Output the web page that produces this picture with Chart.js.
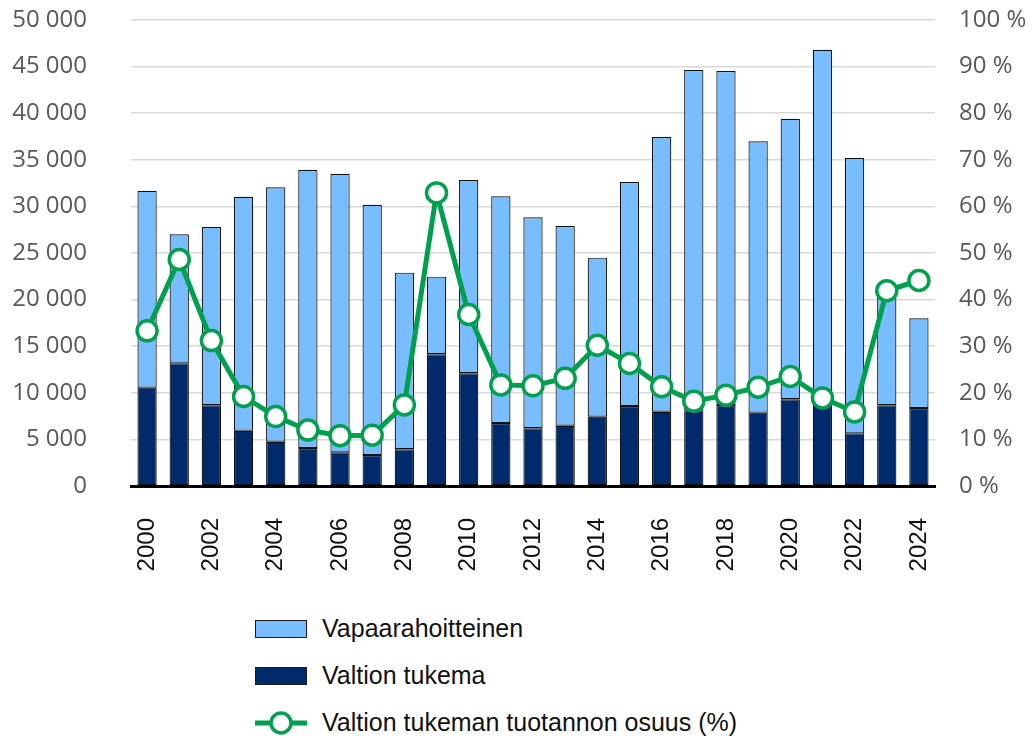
<!DOCTYPE html>
<html lang="fi">
<head>
<meta charset="utf-8">
<title>Asuntotuotanto 2000–2024</title>
<script src="https://cdn.jsdelivr.net/npm/chart.js@4.4.1/dist/chart.umd.min.js"></script>
<style>
    html, body {
        margin: 0;
        padding: 0;
        background: #ffffff;
    }
    .wrap {
        position: relative;
        width: 1035px;
        height: 738px;
    }
    .chart-box {
        position: absolute;
        left: 0;
        top: 0;
        width: 1035px;
        height: 600px;
    }
    .legend {
        position: absolute;
        left: 255px;
        top: 605px;
        font-family: "Liberation Sans", Arial, sans-serif;
        font-size: 25px;
        color: #111111;
    }
    .legend-item {
        display: flex;
        align-items: center;
        height: 47px;
    }
    .swatch {
        width: 50px;
        height: 16px;
        border: 1px solid #1a1a1a;
        margin-right: 15px;
    }
    .legend-item svg {
        margin-right: 15px;
    }
</style>
</head>
<body>
<div class="wrap">
    <div class="chart-box"><canvas id="tuotantoChart"></canvas></div>
    <div class="legend">
        <div class="legend-item"><span class="swatch" style="background:#78bdff"></span>Vapaarahoitteinen</div>
        <div class="legend-item"><span class="swatch" style="background:#002a6c"></span>Valtion tukema</div>
        <div class="legend-item">
            <svg width="52" height="30" viewBox="0 0 52 30">
                <line x1="0" y1="15" x2="52" y2="15" stroke="#00a04f" stroke-width="5"/>
                <circle cx="26" cy="15" r="10" fill="#ffffff" stroke="#00a04f" stroke-width="3.5"/>
            </svg>Valtion tukeman tuotannon osuus (%)
        </div>
    </div>
</div>

<script>
// DATA
const years = ["2000", "2001", "2002", "2003", "2004", "2005", "2006", "2007", "2008", "2009",
    "2010", "2011", "2012", "2013", "2014", "2015", "2016", "2017", "2018", "2019",
    "2020", "2021", "2022", "2023", "2024"];

const valtionTukema = [10550, 13160, 8660, 5930, 4750, 4080, 3610, 3330, 3940, 14130,
    12090, 6760, 6190, 6470, 7440, 8580, 7970, 8140, 8690, 7870,
    9300, 8870, 5650, 8660, 8370];

const vapaarahoitteinen = [21130, 13840, 19140, 25110, 27300, 29860, 29890, 26850, 18950, 8330,
    20740, 24320, 22640, 21430, 17060, 24040, 29480, 36500, 35840, 29110,
    30110, 37940, 29540, 12040, 9630];

const tukemanOsuus = [33.3, 48.6, 31.2, 19.2, 14.9, 12.0, 10.8, 10.9, 17.4, 62.9,
    36.8, 21.7, 21.5, 23.1, 30.2, 26.3, 21.3, 18.2, 19.5, 21.2,
    23.5, 18.9, 15.9, 41.9, 44.1];

const leftTicks = [0, 5000, 10000, 15000, 20000, 25000, 30000, 35000, 40000, 45000, 50000];
const rightTicks = [0, 10, 20, 30, 40, 50, 60, 70, 80, 90, 100];

// COLOURS
const lightBlue = "#78bdff";
const navy = "#002a6c";
const green = "#00a04f";
const tickGrey = "#595959";

function spaced(n) {
    return String(n).replace(/\B(?=(\d{3})+(?!\d))/g, " ");
}

const ctx = document.getElementById("tuotantoChart").getContext("2d");
new Chart(ctx, {
    data: {
        labels: years,
        datasets: [
            {
                type: "line",
                label: "Valtion tukeman tuotannon osuus (%)",
                data: tukemanOsuus,
                yAxisID: "y1",
                borderColor: green,
                borderWidth: 5,
                pointRadius: 10,
                pointHoverRadius: 10,
                pointBackgroundColor: "#ffffff",
                pointBorderColor: green,
                pointBorderWidth: 3.5,
                tension: 0,
                order: 0
            },
            {
                type: "bar",
                label: "Valtion tukema",
                data: valtionTukema,
                yAxisID: "y",
                backgroundColor: navy,
                borderColor: "#111111",
                borderWidth: 1.2,
                borderSkipped: false,
                categoryPercentage: 1,
                barPercentage: 0.6,
                order: 1
            },
            {
                type: "bar",
                label: "Vapaarahoitteinen",
                data: vapaarahoitteinen,
                yAxisID: "y",
                backgroundColor: lightBlue,
                borderColor: "#111111",
                borderWidth: 1.2,
                borderSkipped: false,
                categoryPercentage: 1,
                barPercentage: 0.6,
                order: 1
            }
        ]
    },
    options: {
        responsive: true,
        maintainAspectRatio: false,
        animation: false,
        layout: {
            padding: { top: 20, left: 0, right: 0, bottom: 0 }
        },
        plugins: {
            legend: { display: false },
            tooltip: { enabled: false }
        },
        scales: {
            x: {
                stacked: true,
                grid: { display: false },
                border: { color: "#000000", width: 3 },
                ticks: {
                    autoSkip: false,
                    minRotation: 90,
                    maxRotation: 90,
                    padding: 24,
                    color: "#111111",
                    font: { family: "Liberation Sans", size: 24 },
                    callback: function (value, index) {
                        return index % 2 === 0 ? years[index] : "";
                    }
                },
                afterFit: function (scale) {
                    scale.height = 114;
                }
            },
            y: {
                stacked: true,
                position: "left",
                min: 0,
                max: 50000,
                afterBuildTicks: function (scale) {
                    scale.ticks = leftTicks.map(v => ({ value: v }));
                },
                // invisible tick marks push the labels away from the plot
                grid: {
                    color: "#d9d9d9",
                    lineWidth: 1.5,
                    drawTicks: true,
                    tickLength: 44,
                    tickColor: "rgba(0,0,0,0)"
                },
                border: { display: false },
                ticks: {
                    padding: 0,
                    color: tickGrey,
                    font: { family: "Open Sans", size: 24 },
                    callback: function (value) {
                        return spaced(value);
                    }
                },
                afterFit: function (scale) {
                    scale.width = 131;
                }
            },
            y1: {
                position: "right",
                min: 0,
                max: 100,
                afterBuildTicks: function (scale) {
                    scale.ticks = rightTicks.map(v => ({ value: v }));
                },
                grid: {
                    drawOnChartArea: false,
                    drawTicks: true,
                    tickLength: 24,
                    tickColor: "rgba(0,0,0,0)"
                },
                border: { display: false },
                ticks: {
                    padding: 0,
                    color: tickGrey,
                    font: { family: "Open Sans", size: 24 },
                    callback: function (value) {
                        return value + " %";
                    }
                },
                afterFit: function (scale) {
                    scale.width = 100;
                }
            }
        }
    }
});
</script>
</body>
</html>
